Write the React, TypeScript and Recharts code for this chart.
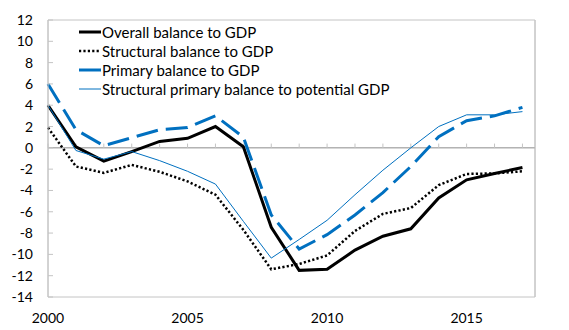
import React from "react"
import { LineChart, Line, XAxis, YAxis, ReferenceLine, ReferenceArea, Legend } from "recharts"

const years = [2000, 2001, 2002, 2003, 2004, 2005, 2006, 2007, 2008, 2009, 2010, 2011, 2012, 2013, 2014, 2015, 2016, 2017]
const overallBalance = [4.0, 0.1, -1.25, -0.35, 0.6, 0.9, 2.0, 0.1, -7.45, -11.5, -11.4, -9.6, -8.3, -7.6, -4.7, -3.0, -2.4, -1.85]
const structuralBalance = [1.9, -1.75, -2.35, -1.6, -2.25, -3.15, -4.4, -7.7, -11.4, -10.9, -10.1, -7.8, -6.2, -5.65, -3.5, -2.45, -2.4, -2.2]
const primaryBalance = [6.0, 1.7, 0.2, 0.95, 1.7, 1.9, 3.0, 1.0, -6.3, -9.5, -8.15, -6.3, -4.2, -1.75, 1.05, 2.55, 3.0, 3.8]
const structuralPrimary = [4.0, -0.25, -1.06, -0.35, -1.2, -2.2, -3.4, -6.9, -10.35, -8.6, -6.8, -4.4, -2.1, 0.0, 2.0, 3.1, 3.1, 3.4]

const xLabels = [2000, 2005, 2010, 2015]
const yTicks = [-14, -12, -10, -8, -6, -4, -2, 0, 2, 4, 6, 8, 10, 12]

const series = [
  { key: "overall", name: "Overall balance to GDP", color: "#000000", width: 3, dash: undefined },
  { key: "structural", name: "Structural balance to GDP", color: "#000000", width: 2.5, dash: "2.2 2.2" },
  { key: "primary", name: "Primary balance to GDP", color: "#0070C0", width: 3, dash: "22 8" },
  { key: "structPrimary", name: "Structural primary balance to potential GDP", color: "#0070C0", width: 1, dash: undefined },
]

const data = years.map((year, i) => ({
  year,
  overall: overallBalance[i],
  structural: structuralBalance[i],
  primary: primaryBalance[i],
  structPrimary: structuralPrimary[i],
}))

const FONT = "Lato, 'Open Sans', sans-serif"

function LegendBox() {
  return (
    <div style={{ fontFamily: FONT, fontSize: 15, color: "#000" }}>
      {series.map((s) => (
        <div key={s.key} style={{ display: "flex", alignItems: "center", height: 19 }}>
          <svg width={23} height={10}>
            <line x1={0} y1={5} x2={22} y2={5} stroke={s.color} strokeWidth={s.width} strokeDasharray={s.key === "primary" ? undefined : s.dash} />
          </svg>
          <span>{s.name}</span>
        </div>
      ))}
    </div>
  )
}

export default function App() {
  return (
    <div style={{ position: "absolute", left: 0, top: 0, width: 569, height: 330, background: "#fff" }}>
      <LineChart width={569} height={330} data={data} margin={{ top: 20, right: 0, bottom: 0, left: 0 }}>
        <ReferenceArea yAxisId="left" x1={2000} x2={2017.45} y1={-14} y2={12} fill="none" stroke="#c4c4c4" strokeWidth={1} />
        <XAxis
          dataKey="year"
          type="number"
          domain={[2000, 2017.45]}
          ticks={xLabels}
          height={33}
          axisLine={false}
          tickLine={false}
          tickMargin={10}
          tick={{ fill: "#000", fontSize: 14, fontFamily: FONT }}
          interval={0}
          allowDecimals={false}
        />
        <YAxis
          yAxisId="left"
          domain={[-14, 12]}
          ticks={yTicks}
          width={48}
          axisLine={{ stroke: "#c4c4c4" }}
          tickLine={{ stroke: "#c4c4c4" }}
          tickSize={-5}
          tickMargin={20}
          tick={{ fill: "#000", fontSize: 14, fontFamily: FONT }}
          interval={0}
        />
        <YAxis
          yAxisId="right"
          orientation="right"
          domain={[-14, 12]}
          ticks={yTicks}
          width={34}
          axisLine={{ stroke: "#c4c4c4" }}
          tickLine={{ stroke: "#c4c4c4" }}
          tickSize={-5}
          tickMargin={20}
          tick={{ fill: "#000", fontSize: 14, fontFamily: FONT }}
          interval={0}
        />
        <ReferenceLine yAxisId="left" y={0} stroke="#8c8c8c" strokeWidth={1} />
        {years.map((yr) => (
          <ReferenceLine
            key={yr}
            yAxisId="left"
            segment={[{ x: yr, y: 0 }, { x: yr, y: 0.4 }]}
            stroke="#c4c4c4"
          />
        ))}
        <Legend
          verticalAlign="middle"
          align="center"
          layout="vertical"
          content={() => <LegendBox />}
          wrapperStyle={{ left: 79, top: 22, width: 340, height: 80 }}
        />
        {series.map((s) => (
          <Line
            key={s.key}
            yAxisId="left"
            type="linear"
            dataKey={s.key}
            name={s.name}
            stroke={s.color}
            strokeWidth={s.width}
            strokeDasharray={s.dash}
            dot={false}
            activeDot={false}
            isAnimationActive={false}
          />
        ))}
      </LineChart>
    </div>
  )
}
